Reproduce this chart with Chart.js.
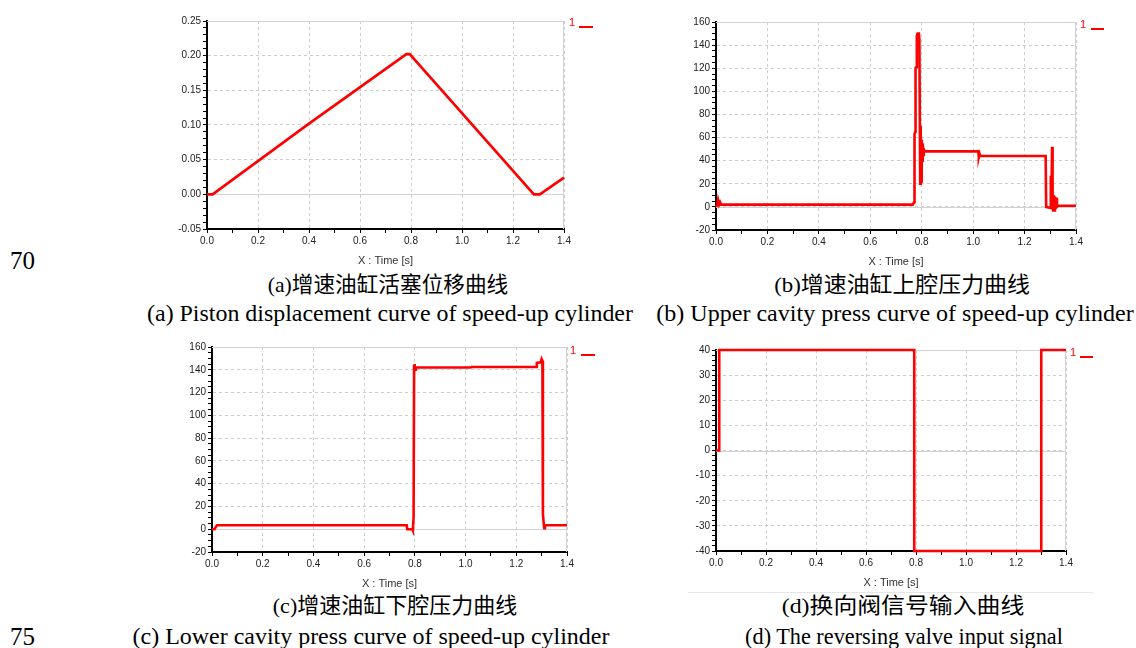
<!DOCTYPE html>
<html>
<head>
<meta charset="utf-8">
<script src="https://cdn.jsdelivr.net/npm/chart.js@4"></script>
<style>
  body { margin: 0; width: 1136px; height: 648px; background: #fff; position: relative; overflow: hidden; }
  canvas { position: absolute; }
  .texto { position: absolute; white-space: nowrap; color: #000; line-height: 1;
           font-family: "Liberation Serif", "Times New Roman", "Noto Sans CJK SC", serif; }
  .cn { font-size: 22px; }
  .en { font-size: 24px; }
  .num { position: absolute; font-size: 25px; line-height: 1; font-family: "Liberation Serif", serif; }
  .leg { position: absolute; color: #f00; font: 11px "Liberation Sans", Arial, sans-serif; line-height: 1; }
  .traco { position: absolute; height: 2px; background: #f00; }
  .linha { position: absolute; height: 1px; background: #e6e6e6; }
</style>
</head>
<body>
<canvas id="graficoA"></canvas>
<canvas id="graficoB"></canvas>
<canvas id="graficoC"></canvas>
<canvas id="graficoD"></canvas>

<div class="num" style="left:10px;top:248px">70</div>
<div class="num" style="left:10px;top:624px">75</div>

<div class="texto cn" data-x="388" data-y="285" data-w="240">(a)增速油缸活塞位移曲线</div>
<div class="texto en" data-x="390" data-y="313" data-w="486">(a) Piston displacement curve of speed-up cylinder</div>
<div class="texto cn" data-x="902" data-y="285" data-w="256">(b)增速油缸上腔压力曲线</div>
<div class="texto en" data-x="895" data-y="313" data-w="477">(b) Upper cavity press curve of speed-up cylinder</div>
<div class="texto cn" data-x="395" data-y="606" data-w="244">(c)增速油缸下腔压力曲线</div>
<div class="texto en" data-x="371" data-y="636" data-w="477">(c) Lower cavity press curve of speed-up cylinder</div>
<div class="texto cn" data-x="903" data-y="606" data-w="243">(d)换向阀信号输入曲线</div>
<div class="texto en" data-x="904" data-y="636" data-w="318">(d) The reversing valve input signal</div>
<div class="linha" style="left:688px;top:592px;width:405px"></div>

<div class="leg" style="left:569px;top:17px">1</div><div class="traco" style="left:579px;top:26px;width:14px"></div>
<div class="leg" style="left:1080px;top:19px">1</div><div class="traco" style="left:1091px;top:28px;width:13px"></div>
<div class="leg" style="left:570px;top:345px">1</div><div class="traco" style="left:581px;top:354px;width:14px"></div>
<div class="leg" style="left:1070px;top:347px">1</div><div class="traco" style="left:1080px;top:356px;width:13px"></div>

<script>
// (a) deslocamento do pistao [m]
const TEMPO_A = [0, 0.022, 0.40, 0.782, 0.795, 1.282, 1.305, 1.40];
const DESLOC_A = [0, 0, 0.102, 0.2022, 0.2022, 0, 0, 0.024];

// (b) pressao na camara superior
const TEMPO_B = [0, 0.005, 0.008, 0.012, 0.016, 0.02, 0.765, 0.770, 0.772, 0.775, 0.776, 0.779, 0.781, 0.784, 0.789, 0.791,
  0.794, 0.796, 0.798, 0.800, 0.802, 0.804, 0.806, 0.808, 0.812, 1.020, 1.022, 1.025, 1.028, 1.282, 1.284, 1.300, 1.302,
  1.304, 1.307, 1.309, 1.311, 1.314, 1.316, 1.318, 1.320, 1.323, 1.326, 1.330, 1.40];
const PRESSAO_B = [0, 2, 6, 2, 4, 2, 2, 4, 63, 65, 120, 121, 148, 150, 150, 145,
  20, 70, 22, 58, 40, 55, 45, 50, 48, 48, 43, 46, 44, 44, 0, -1, 27,
  0, 52, 0, -3, 10, -3, 9, -2, 8, 0, 1, 1];

// (c) pressao na camara inferior
const TEMPO_C = [0, 0.010, 0.015, 0.020, 0.768, 0.770, 0.790, 0.792, 0.795, 0.797, 0.799, 0.801, 0.804, 1.020, 1.024,
  1.278, 1.281, 1.296, 1.300, 1.303, 1.305, 1.310, 1.313, 1.40];
const PRESSAO_C = [0, 0, 2, 3.5, 3.5, 0, 0, -1, 10, 143, 145, 140, 142, 142, 142.5,
  142.5, 146, 146.5, 149.5, 148, 13, 1, 3.5, 3.5];

// (d) sinal da valvula direcional
const TEMPO_D = [0, 0.013, 0.013, 0.793, 0.793, 1.301, 1.301, 1.40];
const SINAL_D = [0, 0, 40, 40, -40, -40, 40, 40];

const EIXO_X = { min: 0, max: 1.4, passo: 0.1, major: 0.2, casas: 1 };
const EIXO_Y_A = { min: -0.05, max: 0.25, passo: 0.01, major: 0.05, casas: 2 };
const EIXO_Y_B = { min: -20, max: 160, passo: 5, major: 20, casas: 0 };
const EIXO_Y_C = { min: -20, max: 160, passo: 5, major: 20, casas: 0 };
const EIXO_Y_D = { min: -40, max: 40, passo: 2, major: 10, casas: 0 };

const ESQ = 50, TOPO = 8, DIR = 24, BASE = 39;

const moldura = {
  id: "moldura",
  beforeDatasetsDraw(chart) {
    const { ctx, chartArea: a, scales } = chart;
    const y0 = Math.round(scales.y.getPixelForValue(0)) + 0.5;
    ctx.save();
    ctx.strokeStyle = "#d2d2d2";
    ctx.lineWidth = 1;
    ctx.beginPath();
    ctx.moveTo(a.left, a.top + 0.5);
    ctx.lineTo(a.right - 0.5, a.top + 0.5);
    ctx.lineTo(a.right - 0.5, a.bottom);
    ctx.moveTo(a.left, y0);
    ctx.lineTo(a.right, y0);
    ctx.stroke();
    ctx.restore();
  }
};

function ehMajor(v, passo) {
  return Math.abs(v / passo - Math.round(v / passo)) < 1e-6;
}

function eixo(cfg, extra) {
  return Object.assign({
    type: "linear",
    min: cfg.min,
    max: cfg.max,
    border: { display: true, color: "#000", width: 2, dash: [3, 3] },
    grid: {
      color: ctx => ctx.tick && ehMajor(ctx.tick.value, cfg.major) ? "#cdcdcd" : "rgba(0,0,0,0)",
      lineWidth: 1,
      tickColor: "#000",
      tickLength: 4,
      tickWidth: 1
    },
    ticks: {
      stepSize: cfg.passo,
      autoSkip: false,
      maxRotation: 0,
      padding: 2,
      color: "#222",
      font: { size: 10, family: "'Liberation Sans', Arial, sans-serif" },
      callback: v => ehMajor(v, cfg.major) ? v.toFixed(cfg.casas) : ""
    }
  }, extra);
}

function criarGrafico(id, box, tempos, valores, eixoY) {
  const canvas = document.getElementById(id);
  const largura = box.right - box.left + ESQ + DIR;
  const altura = box.bottom - box.top + TOPO + BASE;
  canvas.width = largura;
  canvas.height = altura;
  canvas.style.width = largura + "px";
  canvas.style.height = altura + "px";
  canvas.style.left = (box.left - ESQ) + "px";
  canvas.style.top = (box.top - TOPO) + "px";

  return new Chart(canvas, {
    type: "line",
    data: {
      datasets: [{
        data: tempos.map((t, i) => ({ x: t, y: valores[i] })),
        borderColor: "#ff0000",
        borderWidth: 2.6,
        pointRadius: 0,
        tension: 0,
        clip: 4
      }]
    },
    options: {
      responsive: false,
      animation: false,
      events: [],
      layout: { padding: { left: 0, top: TOPO, right: DIR, bottom: 0 } },
      plugins: { legend: { display: false }, tooltip: { enabled: false } },
      scales: {
        x: eixo(EIXO_X, {
          position: "bottom",
          afterFit: s => { s.height = BASE; },
          title: { display: true, text: "X : Time [s]", color: "#333", padding: 0,
                   font: { size: 11, family: "'Liberation Sans', Arial, sans-serif" } }
        }),
        y: eixo(eixoY, {
          position: "left",
          afterFit: s => { s.width = ESQ; }
        })
      }
    },
    plugins: [moldura]
  });
}

function posicionarLegendas() {
  document.querySelectorAll(".texto").forEach(el => {
    const escala = Number(el.dataset.w) / el.offsetWidth;
    el.style.left = el.dataset.x + "px";
    el.style.top = el.dataset.y + "px";
    el.style.transform = `translate(-50%, -50%) scaleX(${escala})`;
  });
}

criarGrafico("graficoA", { left: 207, top: 21, right: 564, bottom: 229 }, TEMPO_A, DESLOC_A, EIXO_Y_A);
criarGrafico("graficoB", { left: 716, top: 22, right: 1076, bottom: 230 }, TEMPO_B, PRESSAO_B, EIXO_Y_B);
criarGrafico("graficoC", { left: 212, top: 347, right: 567, bottom: 552 }, TEMPO_C, PRESSAO_C, EIXO_Y_C);
criarGrafico("graficoD", { left: 716, top: 350, right: 1066, bottom: 551 }, TEMPO_D, SINAL_D, EIXO_Y_D);
posicionarLegendas();
</script>
</body>
</html>
